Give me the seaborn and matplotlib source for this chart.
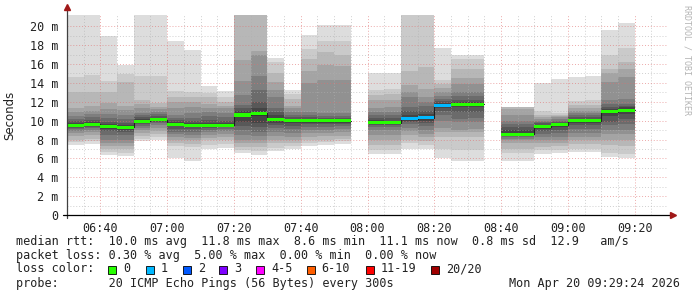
import numpy as np
import pandas as pd
import matplotlib
matplotlib.use("Agg")
import matplotlib.pyplot as plt
from matplotlib.patches import Rectangle
import seaborn as sns

# ---------------- data ----------------
times = ["06:30", "06:35", "06:40", "06:45", "06:50", "06:55", "07:00", "07:05",
         "07:10", "07:15", "07:20", "07:25", "07:30", "07:35", "07:40", "07:45",
         "07:50", "08:00", "08:05", "08:10", "08:15", "08:20", "08:25", "08:30",
         "08:40", "08:45", "08:50", "08:55", "09:00", "09:05", "09:10", "09:15"]

median_ms = [9.5, 9.6, 9.35, 9.3, 9.95, 10.1, 9.6, 9.5, 9.5, 9.5, 10.6, 10.8,
             10.1, 10.0, 10.0, 10.0, 10.0, 9.8, 9.8, 10.2, 10.3, 11.65, 11.75,
             11.75, 8.55, 8.55, 9.35, 9.55, 10.0, 10.0, 10.95, 11.1]

loss_count = [0] * 19 + [1, 1, 1] + [0] * 10

# sorted ping rtts (ms): lower ten (ping 1..10) and upper ten (ping 11..20)
ping_low = [
    [7.4, 7.7, 8.0, 8.4, 8.7, 8.9, 9.1, 9.2, 9.3, 9.4],
    [7.5, 7.8, 8.1, 8.5, 8.8, 9.0, 9.2, 9.3, 9.4, 9.5],
    [6.4, 6.7, 7.0, 7.3, 7.6, 8.0, 8.5, 8.9, 9.1, 9.3],
    [6.3, 6.6, 7.0, 7.3, 7.6, 8.0, 8.5, 8.8, 9.0, 9.2],
    [7.8, 8.1, 8.4, 8.7, 9.0, 9.2, 9.4, 9.6, 9.8, 9.9],
    [8.0, 8.3, 8.6, 8.9, 9.2, 9.5, 9.7, 9.9, 10.0, 10.1],
    [6.0, 7.3, 7.6, 7.9, 8.3, 8.6, 8.8, 9.1, 9.4, 9.5],
    [5.7, 7.2, 7.5, 7.9, 8.2, 8.5, 8.8, 9.1, 9.3, 9.4],
    [7.0, 7.4, 7.9, 8.2, 8.5, 8.8, 9.0, 9.2, 9.4, 9.5],
    [7.1, 7.5, 7.9, 8.3, 8.6, 8.9, 9.1, 9.3, 9.4, 9.5],
    [6.6, 6.9, 7.2, 7.6, 8.0, 8.5, 9.0, 9.4, 9.9, 10.4],
    [6.4, 6.8, 7.2, 7.6, 8.0, 8.4, 8.8, 9.3, 9.8, 10.5],
    [6.8, 7.1, 7.6, 8.0, 8.4, 8.8, 9.2, 9.5, 9.8, 10.0],
    [7.0, 7.3, 7.6, 7.9, 8.3, 8.7, 9.1, 9.4, 9.7, 9.9],
    [7.3, 7.6, 7.9, 8.3, 8.7, 9.0, 9.3, 9.6, 9.8, 9.9],
    [7.4, 7.7, 8.0, 8.4, 8.7, 9.0, 9.3, 9.6, 9.8, 9.9],
    [7.5, 7.8, 8.1, 8.4, 8.8, 9.1, 9.4, 9.6, 9.8, 9.9],
    [6.5, 6.9, 7.4, 7.9, 8.5, 9.0, 9.3, 9.5, 9.7, 9.8],
    [6.5, 6.9, 7.4, 7.9, 8.5, 9.0, 9.3, 9.5, 9.7, 9.8],
    [7.0, 7.6, 8.0, 8.5, 8.9, 9.2, 9.6, 9.9, 10.0, 10.1],
    [7.0, 7.4, 7.8, 8.3, 8.6, 9.0, 9.4, 9.8, 10.0, 10.2],
    [6.0, 7.0, 8.3, 8.8, 9.2, 10.0, 10.6, 11.0, 11.3, 11.6],
    [5.7, 6.9, 8.3, 8.8, 9.0, 9.9, 10.2, 10.9, 11.4, 11.7],
    [5.7, 6.9, 8.3, 8.8, 9.1, 9.9, 10.3, 10.9, 11.4, 11.7],
    [5.7, 6.6, 7.0, 7.6, 7.9, 8.1, 8.3, 8.4, 8.5, 8.55],
    [5.7, 6.6, 7.0, 7.6, 7.9, 8.1, 8.3, 8.4, 8.5, 8.55],
    [6.5, 6.9, 7.2, 7.6, 7.9, 8.3, 8.6, 8.9, 9.1, 9.3],
    [6.6, 6.9, 7.3, 7.6, 7.9, 8.3, 8.7, 9.0, 9.3, 9.5],
    [6.7, 7.0, 7.5, 7.9, 8.3, 8.7, 9.1, 9.5, 9.8, 9.95],
    [6.7, 7.0, 7.5, 7.9, 8.3, 8.7, 9.1, 9.5, 9.8, 9.95],
    [6.1, 6.6, 7.4, 7.9, 8.6, 9.0, 9.5, 9.9, 10.5, 10.9],
    [6.0, 6.5, 7.3, 7.9, 8.6, 9.0, 9.6, 10.2, 10.7, 11.0],
]
ping_high = [
    [9.6, 9.8, 10.0, 10.2, 10.5, 10.9, 11.3, 13.0, 14.6, 22.0],
    [9.7, 9.9, 10.1, 10.4, 10.7, 11.0, 11.6, 13.0, 14.8, 22.0],
    [9.4, 9.6, 9.9, 10.3, 10.7, 11.2, 11.9, 13.0, 14.2, 19.0],
    [9.4, 9.5, 9.8, 10.2, 10.6, 11.1, 11.6, 14.1, 14.9, 15.9],
    [10.0, 10.2, 10.4, 10.6, 10.8, 11.3, 11.8, 12.2, 14.7, 22.0],
    [10.2, 10.3, 10.5, 10.7, 10.9, 11.2, 11.5, 11.9, 14.7, 22.0],
    [9.7, 9.9, 10.1, 10.3, 10.6, 11.3, 12.0, 12.5, 13.1, 18.4],
    [9.6, 9.8, 10.0, 10.3, 10.8, 11.5, 12.0, 12.5, 13.0, 17.5],
    [9.6, 9.8, 10.1, 10.5, 10.9, 11.3, 11.8, 12.5, 12.9, 13.7],
    [9.6, 9.8, 10.0, 10.4, 10.8, 11.3, 11.6, 12.0, 12.5, 13.1],
    [10.8, 11.0, 11.3, 11.7, 12.7, 14.2, 16.4, 22.0, 22.5, 23.0],
    [10.9, 11.3, 12.0, 13.2, 14.7, 17.0, 17.4, 22.0, 22.5, 23.0],
    [10.3, 10.6, 10.9, 11.3, 12.5, 13.2, 14.1, 15.0, 16.2, 16.6],
    [10.1, 10.2, 10.4, 10.6, 10.9, 11.3, 11.6, 12.3, 12.8, 13.3],
    [10.1, 10.2, 10.4, 10.6, 10.9, 14.0, 15.3, 16.5, 17.6, 19.1],
    [10.1, 10.2, 10.3, 10.5, 10.8, 14.3, 15.9, 17.3, 18.4, 20.1],
    [10.1, 10.2, 10.3, 10.5, 10.8, 14.3, 15.8, 17.0, 18.4, 20.1],
    [9.9, 10.1, 10.3, 10.6, 10.9, 11.3, 12.2, 12.7, 13.3, 15.0],
    [9.9, 10.0, 10.3, 10.6, 10.9, 11.4, 12.2, 12.8, 13.4, 15.0],
    [10.3, 10.6, 11.0, 11.5, 12.5, 13.0, 13.8, 15.3, 22.0, 22.5],
    [10.4, 10.7, 11.0, 11.6, 12.0, 12.5, 13.4, 15.7, 22.0, 22.5],
    [11.7, 11.9, 12.1, 12.3, 12.6, 13.0, 13.5, 13.9, 14.3, 17.7],
    [11.8, 12.0, 12.2, 12.6, 13.0, 13.9, 14.5, 15.5, 16.5, 17.0],
    [11.8, 12.0, 12.2, 12.6, 13.0, 13.9, 14.5, 15.5, 16.5, 17.0],
    [8.6, 9.0, 9.3, 9.6, 10.0, 10.6, 11.2, 11.4, 11.45, 11.5],
    [8.6, 9.0, 9.3, 9.6, 10.0, 10.6, 11.2, 11.4, 11.45, 11.5],
    [9.4, 9.5, 9.7, 9.9, 10.0, 10.2, 10.4, 10.6, 11.0, 14.0],
    [9.6, 9.7, 9.9, 10.0, 10.2, 10.4, 10.5, 10.6, 10.8, 14.4],
    [10.1, 10.2, 10.4, 10.6, 10.8, 11.0, 11.3, 11.7, 12.1, 14.6],
    [10.1, 10.2, 10.4, 10.6, 10.8, 11.0, 11.3, 11.7, 12.2, 14.7],
    [11.0, 11.2, 11.5, 11.8, 12.2, 14.1, 15.0, 15.5, 17.0, 19.6],
    [11.2, 11.4, 11.6, 11.8, 12.3, 14.6, 15.5, 16.2, 17.7, 20.4],
]

x_tick_labels = ["06:40", "07:00", "07:20", "07:40", "08:00", "08:20", "08:40", "09:00", "09:20"]
y_ticks_ms = [0, 2, 4, 6, 8, 10, 12, 14, 16, 18, 20]

loss_labels = ["0", "1", "2", "3", "4-5", "6-10", "11-19", "20/20"]
loss_colors = ["#26ff00", "#00b8ff", "#0059ff", "#7e00ff", "#ff00ff", "#ff5e00", "#ff0000", "#a00000"]
smoke_shades = ["#dddddd", "#cacaca", "#b7b7b7", "#a4a4a4", "#919191",
                "#7e7e7e", "#6b6b6b", "#585858", "#454545", "#323232"]

stats_rtt = "median rtt:  10.0 ms avg  11.8 ms max  8.6 ms min  11.1 ms now  0.8 ms sd  12.9   am/s"
stats_loss = "packet loss: 0.30 % avg  5.00 % max  0.00 % min  0.00 % now"
probe_text = "probe:       20 ICMP Echo Pings (56 Bytes) every 300s"
date_text = "Mon Apr 20 09:29:24 2026"

# ---------------- style ----------------
sns.set_style("white")
plt.rcParams['font.family'] = ['DejaVu Sans Mono', 'DejaVu Sans']

W, H = 697, 297
fig = plt.figure(figsize=(W / 100, H / 100), dpi=100)
fig.patch.set_facecolor("white")

T0 = 6 * 60 + 30


def to_min(s):
    h, m = s.split(":")
    return int(h) * 60 + int(m) - T0


ax = fig.add_axes([67 / W, (H - 215) / H, 601 / W, 200 / H])
ax.set_facecolor("white")
ax.set_xlim(0, 180)
ax.set_ylim(0, 21.2)

starts = np.array([to_min(t) for t in times], dtype=float)
pings = np.hstack([np.array(ping_low), np.array(ping_high)])

# smoke layers
for k, shade in enumerate(smoke_shades):
    lo = pings[:, k]
    hi = pings[:, 19 - k]
    ax.bar(starts, hi - lo, bottom=lo, width=5, align="edge", color=shade,
           linewidth=0, antialiased=False, zorder=1)

# median black step line (segments separated at gaps)
rows = []
seg = 0
for i, (s, m) in enumerate(zip(starts, median_ms)):
    if i > 0 and s != starts[i - 1] + 5:
        rows.append((starts[i - 1] + 5, median_ms[i - 1], seg))
        seg += 1
    rows.append((s, m, seg))
rows.append((starts[-1] + 5, median_ms[-1], seg))
df = pd.DataFrame(rows, columns=["t", "med", "seg"])
sns.lineplot(data=df, x="t", y="med", units="seg", estimator=None,
             drawstyle="steps-post", color="#202020", linewidth=0.8,
             ax=ax, legend=False, zorder=3)


def loss_class(n):
    if n <= 3:
        return n
    if n <= 5:
        return 4
    if n <= 10:
        return 5
    if n <= 19:
        return 6
    return 7


hw = 0.16
med = np.array(median_ms)
ax.bar(starts, 2 * hw, bottom=med - hw, width=5, align="edge",
       color=[loss_colors[loss_class(n)] for n in loss_count],
       linewidth=0, antialiased=False, zorder=4)

# grid
x_major = [to_min(t) for t in x_tick_labels]
ax.set_xticks(x_major)
ax.set_xticklabels(x_tick_labels)
ax.set_xticks(np.arange(5, 180, 5), minor=True)
ax.set_yticks(y_ticks_ms)
ax.set_yticklabels(["0"] + [f"{v} m" for v in y_ticks_ms[1:]])
ax.set_yticks(np.arange(1, 21, 2), minor=True)
ax.set_axisbelow(False)
ax.grid(which="minor", color="#b0b0b0", alpha=0.6, linestyle=(0, (1, 2)), linewidth=0.7)
ax.grid(which="major", color="#e07070", alpha=0.6, linestyle=(0, (1, 2)), linewidth=0.7)
ax.set_xlabel("")
ax.set_ylabel("")
for sp in ax.spines.values():
    sp.set_visible(False)
ax.tick_params(axis="both", which="major", length=3, width=0.8, color="#404040",
               labelsize=8.5, pad=3, labelcolor="#222222")
ax.tick_params(axis="both", which="minor", length=0)
ax.tick_params(axis="x", which="major", length=0, pad=5)

# axes lines with arrows
ax.plot([0, 0], [-0.015, 1.035], transform=ax.transAxes, clip_on=False,
        color="#404040", lw=0.9, zorder=6)
ax.plot([-0.007, 1.006], [0, 0], transform=ax.transAxes, clip_on=False,
        color="black", lw=0.9, zorder=6)
ax.plot([0], [1.04], marker="^", ms=4.5, color="#a01818", transform=ax.transAxes,
        clip_on=False, zorder=7)
ax.plot([1.008], [0], marker=">", ms=4.5, color="#a01818", transform=ax.transAxes,
        clip_on=False, zorder=7)


def ftext(x, y, s, **kw):
    fig.text(x / W, 1 - y / H, s, **kw)


ftext(10, 115, "Seconds", rotation=90, ha="center", va="center", fontsize=8.5,
      family=["DejaVu Sans"], color="#222222")
ftext(687, 5, "RRDTOOL / TOBI OETIKER", rotation=270, ha="center", va="top",
      fontsize=6, color="#b4b4b4")

ftext(16, 241, stats_rtt, ha="left", va="center", fontsize=8.5, color="#222222")
ftext(16, 255, stats_loss, ha="left", va="center", fontsize=8.5, color="#222222")
ftext(16, 269, "loss color:", ha="left", va="center", fontsize=8.5, color="#222222")
box_x = [108, 145.7, 182.7, 219.3, 256, 306.7, 365.7, 430.7]
for bx, lab, col in zip(box_x, loss_labels, loss_colors):
    fig.add_artist(Rectangle((bx / W, 1 - 274 / H), 8 / W, 8 / H,
                             transform=fig.transFigure, facecolor=col,
                             edgecolor="black", linewidth=0.6))
    ftext(bx + 15, 269, lab, ha="left", va="center", fontsize=8.5, color="#222222")
ftext(16, 283, probe_text, ha="left", va="center", fontsize=8.5, color="#222222")
ftext(680, 283, date_text, ha="right", va="center", fontsize=8.5, color="#222222")

fig.savefig("out.png", dpi=100, facecolor="white")
